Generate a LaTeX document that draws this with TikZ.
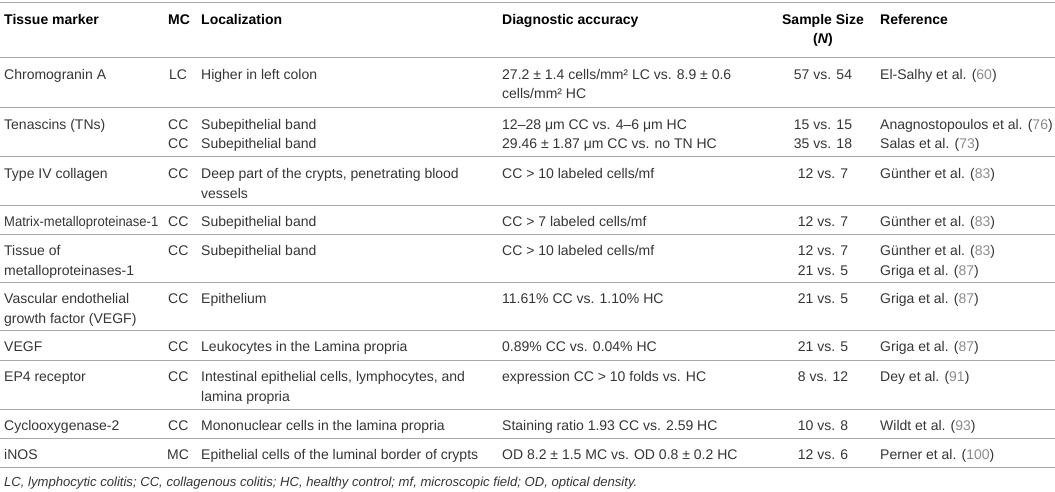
\documentclass[tikz,border=0pt]{standalone}
\usepackage{fontspec}
\setmainfont{Liberation Sans}
\newfontfamily\narrowsans[FakeStretch=0.93]{Liberation Sans}
\definecolor{txt}{HTML}{363636}
\definecolor{rulec}{HTML}{A8A8A8}
\definecolor{refnum}{HTML}{8C8C8C}
\newcommand\rn[1]{{\color{refnum}#1}}
\tikzset{
  cell/.style={anchor=base west, inner sep=0pt, text=txt, font=\fontsize{14}{16}\selectfont},
  ccell/.style={cell, anchor=base},
  head/.style={cell, text=black, font=\fontsize{14}{16}\selectfont\bfseries},
  chead/.style={head, anchor=base},
  rulel/.style={draw=rulec, line width=1pt},
  foot/.style={cell, font=\fontsize{13.1}{16}\selectfont\itshape}
}
\begin{document}
\begin{tikzpicture}[x=1pt,y=-1pt]
\useasboundingbox[fill=white] (0,0) rectangle (1055,492);
% rules
\foreach \yy in {3,58,108,157,205,234,282,330,360,409,438,467}
  \draw[rulel] (0,\yy) -- (1055,\yy);
% header
\node[head]  (h1) at (4,24.5)   {Tissue marker};
\node[head]  (h2) at (168,24.5) {MC};
\node[head]  (h3) at (201,24.5) {Localization};
\node[head]  (h4) at (502,24.5) {Diagnostic accuracy};
\node[chead] (h5) at (823,24.5) {Sample Size};
\node[chead] (h5b) at (823,44)  {(\textit{N})};
\node[head]  (h6) at (880,24.5) {Reference};
% row 1
\node[cell]  (a1) at (4,79.5)   {Chromogranin A};
\node[cell]  (b1) at (169,79.5) {LC};
\node[cell]  (c1) at (201,79.5) {Higher in left colon};
\node[cell]  (d1) at (502,79.5) {27.2 ± 1.4 cells/mm² LC vs. 8.9 ± 0.6};
\node[cell]  (d1b) at (502,99)  {cells/mm² HC};
\node[ccell] (e1) at (823,79.5) {57 vs. 54};
\node[cell]  (f1) at (880,79.5) {El-Salhy et al. (\rn{60})};
% row 2
\node[cell]  (a2) at (4,129.5)   {Tenascins (TNs)};
\node[cell]  (b2) at (168,129.5) {CC};
\node[cell]  (b2b) at (168,149)  {CC};
\node[cell]  (c2) at (201,129.5) {Subepithelial band};
\node[cell]  (c2b) at (201,149)  {Subepithelial band};
\node[cell]  (d2) at (502,129.5) {12–28 μm CC vs. 4–6 μm HC};
\node[cell]  (d2b) at (502,149)  {29.46 ± 1.87 μm CC vs. no TN HC};
\node[ccell] (e2) at (823,129.5) {15 vs. 15};
\node[ccell] (e2b) at (823,149)  {35 vs. 18};
\node[cell]  (f2) at (880,129.5) {Anagnostopoulos et al. (\rn{76})};
\node[cell]  (f2b) at (880,149)  {Salas et al. (\rn{73})};
% row 3
\node[cell]  (a3) at (4,178.5)   {Type IV collagen};
\node[cell]  (b3) at (168,178.5) {CC};
\node[cell]  (c3) at (201,178.5) {Deep part of the crypts, penetrating blood};
\node[cell]  (c3b) at (201,198)  {vessels};
\node[cell]  (d3) at (502,178.5) {CC > 10 labeled cells/mf};
\node[ccell] (e3) at (823,178.5) {12 vs. 7};
\node[cell]  (f3) at (880,178.5) {Günther et al. (\rn{83})};
% row 4
\node[cell, font=\fontsize{14}{16}\narrowsans]  (a4) at (4,226.5)   {Matrix-metalloproteinase-1};
\node[cell]  (b4) at (168,226.5) {CC};
\node[cell]  (c4) at (201,226.5) {Subepithelial band};
\node[cell]  (d4) at (502,226.5) {CC > 7 labeled cells/mf};
\node[ccell] (e4) at (823,226.5) {12 vs. 7};
\node[cell]  (f4) at (880,226.5) {Günther et al. (\rn{83})};
% row 5
\node[cell]  (a5) at (4,255.5)   {Tissue of};
\node[cell]  (a5b) at (4,275)    {metalloproteinases-1};
\node[cell]  (b5) at (168,255.5) {CC};
\node[cell]  (c5) at (201,255.5) {Subepithelial band};
\node[cell]  (d5) at (502,255.5) {CC > 10 labeled cells/mf};
\node[ccell] (e5) at (823,255.5) {12 vs. 7};
\node[ccell] (e5b) at (823,275)  {21 vs. 5};
\node[cell]  (f5) at (880,255.5) {Günther et al. (\rn{83})};
\node[cell]  (f5b) at (880,275)  {Griga et al. (\rn{87})};
% row 6
\node[cell]  (a6) at (4,303.5)   {Vascular endothelial};
\node[cell]  (a6b) at (4,323)    {growth factor (VEGF)};
\node[cell]  (b6) at (168,303.5) {CC};
\node[cell]  (c6) at (201,303.5) {Epithelium};
\node[cell]  (d6) at (502,303.5) {11.61\% CC vs. 1.10\% HC};
\node[ccell] (e6) at (823,303.5) {21 vs. 5};
\node[cell]  (f6) at (880,303.5) {Griga et al. (\rn{87})};
% row 7
\node[cell]  (a7) at (4,351.5)   {VEGF};
\node[cell]  (b7) at (168,351.5) {CC};
\node[cell]  (c7) at (201,351.5) {Leukocytes in the Lamina propria};
\node[cell]  (d7) at (502,351.5) {0.89\% CC vs. 0.04\% HC};
\node[ccell] (e7) at (823,351.5) {21 vs. 5};
\node[cell]  (f7) at (880,351.5) {Griga et al. (\rn{87})};
% row 8
\node[cell]  (a8) at (4,381.5)   {EP4 receptor};
\node[cell]  (b8) at (168,381.5) {CC};
\node[cell]  (c8) at (201,381.5) {Intestinal epithelial cells, lymphocytes, and};
\node[cell]  (c8b) at (201,401)  {lamina propria};
\node[cell]  (d8) at (502,381.5) {expression CC > 10 folds vs. HC};
\node[ccell] (e8) at (823,381.5) {8 vs. 12};
\node[cell]  (f8) at (880,381.5) {Dey et al. (\rn{91})};
% row 9
\node[cell]  (a9) at (4,430.5)   {Cyclooxygenase-2};
\node[cell]  (b9) at (168,430.5) {CC};
\node[cell]  (c9) at (201,430.5) {Mononuclear cells in the lamina propria};
\node[cell]  (d9) at (502,430.5) {Staining ratio 1.93 CC vs. 2.59 HC};
\node[ccell] (e9) at (823,430.5) {10 vs. 8};
\node[cell]  (f9) at (880,430.5) {Wildt et al. (\rn{93})};
% row 10
\node[cell]  (a10) at (4,459.5)   {iNOS};
\node[cell]  (b10) at (167,459.5) {MC};
\node[cell]  (c10) at (201,459.5) {Epithelial cells of the luminal border of crypts};
\node[cell]  (d10) at (502,459.5) {OD 8.2 ± 1.5 MC vs. OD 0.8 ± 0.2 HC};
\node[ccell] (e10) at (823,459.5) {12 vs. 6};
\node[cell]  (f10) at (880,459.5) {Perner et al. (\rn{100})};
% footnote
\node[foot] (fn) at (4,486.5) {LC, lymphocytic colitis; CC, collagenous colitis; HC, healthy control; mf, microscopic field; OD, optical density.};
\end{tikzpicture}
\end{document}
